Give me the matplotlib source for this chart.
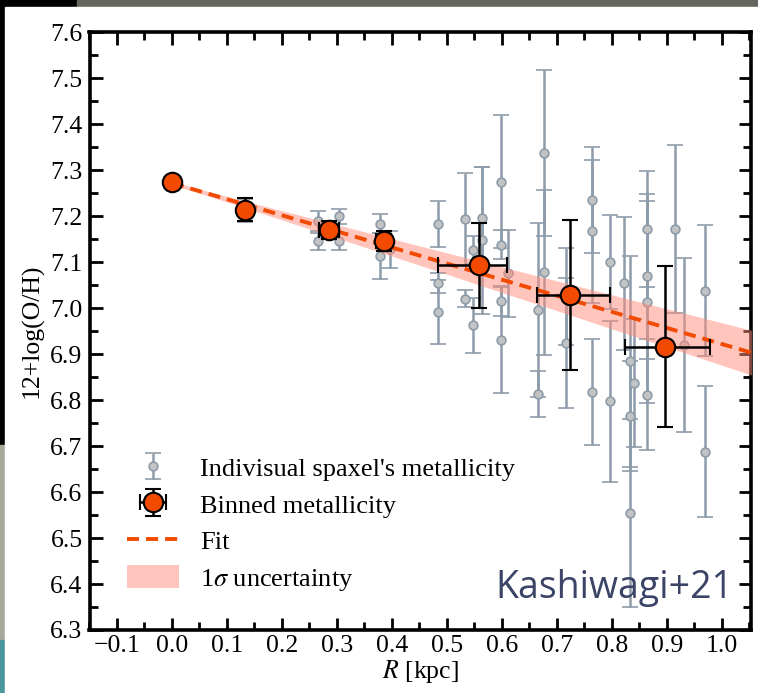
import numpy as np
import matplotlib
matplotlib.use("Agg")
import matplotlib.pyplot as plt
from matplotlib.patches import Rectangle
from matplotlib.ticker import MultipleLocator

plt.rcParams['font.family'] = ['Liberation Serif', 'DejaVu Serif']
plt.rcParams['mathtext.fontset'] = 'stix'

# individual spaxels
spx_r = [0.0, 0.133,
         0.265, 0.265, 0.304, 0.304,
         0.378, 0.378, 0.396,
         0.484, 0.484, 0.484, 0.532, 0.532, 0.548, 0.548, 0.564, 0.564,
         0.598, 0.598, 0.598, 0.598, 0.611,
         0.666, 0.666, 0.677, 0.677, 0.717, 0.717, 0.763, 0.763, 0.763,
         0.797, 0.797,
         0.822, 0.833, 0.841, 0.833, 0.833, 0.863, 0.863, 0.863, 0.863,
         0.915, 0.931, 0.969, 0.969]
spx_z = [7.275, 7.213,
         7.19, 7.145, 7.20, 7.145,
         7.184, 7.113, 7.128,
         7.183, 7.055, 6.992, 7.193, 7.021, 7.127, 6.963, 7.197, 7.148,
         7.275, 7.138, 7.016, 6.931, 7.076,
         6.996, 6.813, 7.338, 7.078, 7.025, 6.924, 7.235, 7.167, 6.817,
         7.101, 6.797,
         7.054, 6.884, 6.837, 6.766, 6.554, 7.172, 7.069, 7.013, 6.812,
         7.172, 6.92, 7.038, 6.688]
spx_err = [0.004, 0.025,
           0.022, 0.018, 0.016, 0.018,
           0.02, 0.05, 0.04,
           0.051, 0.022, 0.069, 0.10, 0.018, 0.03, 0.06, 0.111, 0.16,
           0.145, 0.032, 0.033, 0.116, 0.095,
           0.19, 0.05, 0.181, 0.18, 0.105, 0.142, 0.115, 0.155, 0.115,
           0.102, 0.175,
           0.145, 0.23, 0.14, 0.12, 0.205, 0.127, 0.18, 0.22, 0.12,
           0.183, 0.19, 0.143, 0.142]

# binned
bin_r = [0.0, 0.133, 0.286, 0.385, 0.559, 0.724, 0.896]
bin_z = [7.275, 7.214, 7.170, 7.146, 7.093, 7.028, 6.916]
bin_xerr_lo = [0.0, 0.0, 0.018, 0.014, 0.075, 0.060, 0.072]
bin_xerr_hi = [0.0, 0.0, 0.018, 0.014, 0.051, 0.072, 0.083]
bin_zerr = [0.0, 0.025, 0.02, 0.022, 0.092, 0.163, 0.175]

# fit
fit_intercept = 7.272
fit_slope = -0.350
fit_intercept_err = 0.004
fit_slope_err = 0.046

W, H = 758, 693
fig = plt.figure(figsize=(W / 100, H / 100), dpi=100, facecolor='black')
# slide background pieces around the chart
fig.patches.append(Rectangle((77 / W, 1 - 7 / H), 1, 7 / H, transform=fig.transFigure,
                             color='#66665f', zorder=-5))
fig.patches.append(Rectangle((0, 53 / H), 5 / W, 195 / H, transform=fig.transFigure,
                             color='#a9a99b', zorder=-5))
fig.patches.append(Rectangle((0, 0), 5 / W, 53 / H, transform=fig.transFigure,
                             color='#4b97a0', zorder=-5))
fig.patches.append(Rectangle((5 / W, 0), 1, 1 - 7 / H, transform=fig.transFigure,
                             color='white', zorder=-5))

ax = fig.add_axes([89.5 / W, 63 / H, (751 - 89.5) / W, (630 - 32.3) / H])
ax.set_zorder(2)
ax.patch.set_alpha(0)

gray = '#8d9caa'
orange = '#f24a00'

ax.errorbar(spx_r, spx_z, yerr=spx_err, fmt='o', color=gray, ecolor=gray,
            mfc='#c3c3c3', mec=gray, ms=6.3, mew=1.2, elinewidth=1.8,
            capsize=6, capthick=1.8, zorder=2,
            label="Indivisual spaxel's metallicity")

xx = np.linspace(0, 1.06, 200)
yy = fit_intercept + fit_slope * xx
sig = np.sqrt(fit_intercept_err ** 2 + (xx * fit_slope_err) ** 2)
ax.fill_between(xx, yy - sig, yy + sig, color='#ff8c7a', alpha=0.5, lw=0,
                zorder=3, label=r'1$\sigma$ uncertainty')
ax.plot(xx, yy, ls=(0, (3.1, 1.8)), color=orange, lw=2.8, zorder=4, label='Fit')

ax.errorbar(bin_r, bin_z, yerr=bin_zerr, xerr=[bin_xerr_lo, bin_xerr_hi], fmt='o',
            color='black', ecolor='black', mfc=orange, mec='black', ms=14, mew=1.5,
            elinewidth=1.8, capsize=6, capthick=1.8, zorder=5,
            label='Binned metallicity')

ax.set_xlim(-0.15, 1.053)
ax.set_ylim(6.3, 7.6)
ax.xaxis.set_major_locator(MultipleLocator(0.1))
ax.xaxis.set_minor_locator(MultipleLocator(0.05))
ax.yaxis.set_major_locator(MultipleLocator(0.1))
ax.yaxis.set_minor_locator(MultipleLocator(0.05))
ax.tick_params(which='both', direction='in', top=True, right=True, labelsize=18.5, width=2)
ax.tick_params(which='major', length=9)
ax.tick_params(which='minor', length=5.5)
ax.tick_params(axis='y', pad=5)
ax.xaxis.set_major_formatter(matplotlib.ticker.FuncFormatter(lambda v, p: f"{v:.1f}".replace('-', '\u2212')))
ax.yaxis.set_major_formatter(matplotlib.ticker.FuncFormatter(lambda v, p: f"{v:.1f}"))
for s in ax.spines.values():
    s.set_linewidth(2.6)

ax.set_xlabel(r'$R$ [kpc]', fontsize=18.5, labelpad=1)
ax.set_ylabel('12+log(O/H)', fontsize=18.5, labelpad=5)

h, l = ax.get_legend_handles_labels()
order = [l.index("Indivisual spaxel's metallicity"), l.index('Binned metallicity'),
         l.index('Fit'), l.index(r'1$\sigma$ uncertainty')]
leg = ax.legend([h[i] for i in order], [l[i] for i in order], loc='lower left',
                bbox_to_anchor=(0.04, 0.045), frameon=False, fontsize=19,
                handlelength=2.0, handleheight=1.0, handletextpad=0.8,
                labelspacing=0.4, borderaxespad=0)

fig.text(733 / W, 1 - 588 / H, 'Kashiwagi+21', ha='right', va='center',
         fontsize=27, family='Open Sans', color='#3b4466', zorder=10)

fig.savefig('out.png', dpi=100, facecolor=fig.get_facecolor())
